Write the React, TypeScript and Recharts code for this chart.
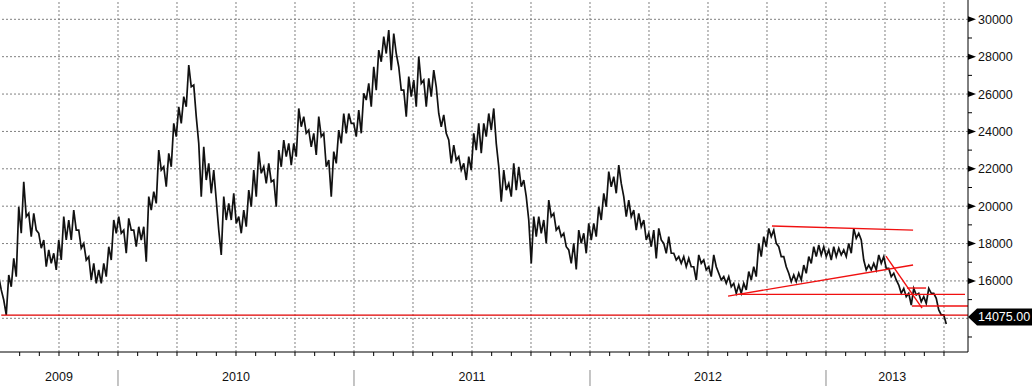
import React from 'react';
import { LineChart, Line, XAxis, YAxis, ReferenceLine } from 'recharts';

// ---- data ----
const START = 2009.5; // fractional year of the first sample
const STEP = 1 / 47.2; // years between samples (~7.7 days)

// high / low of the price band in each sample period
const highs = [
  16230, 14980, 16320, 17210, 19970, 21310, 19620, 19620, 18550, 18190,
  17660, 17480, 18190, 19440, 19260, 19790, 18720, 18010, 17300, 16940,
  16590, 16940, 17830, 19260, 19440, 18720, 19350, 18720, 18900, 18900,
  20510, 20780, 23000, 22110, 22830, 24430, 25320, 25860, 27550, 26480,
  23360, 23180, 22290, 21930, 18720, 20510, 20150, 20690, 19440, 19790,
  20860, 21930, 22920, 22110, 22290, 21400, 23000, 23540, 23360, 23360,
  25230, 24790, 24070, 23900, 24790, 23900, 22470, 22920, 24070, 24960,
  24960, 24430, 25140, 26040, 26570, 27460, 28350, 29070, 29420, 29240,
  27460, 26210, 26930, 26750, 28000, 26750, 26840, 27280, 24960, 24880,
  23540, 23270, 22650, 22290, 22650, 23900, 24430, 24430, 24960, 25230,
  22110, 21930, 21220, 22290, 22110, 21400, 19260, 19440, 19440, 19260,
  20330, 19620, 18900, 18550, 17660, 18010, 18720, 18550, 19080, 19080,
  19970, 20690, 21850, 21580, 22200, 20510, 20330, 19790, 19620, 19260,
  18550, 18720, 18810, 18010, 18370, 17480, 17300, 17300, 17210, 16760,
  17390, 17120, 16760, 17390, 16410, 16230, 16230, 15870, 15780, 15870,
  16500, 16760, 18010, 18370, 18810, 18720, 17830, 17300, 16410, 16320,
  16410, 16850, 17300, 17830, 17920, 17830, 17660, 17830, 17750, 17660,
  18010, 18800, 18550, 17120, 16850, 16940, 17390, 17300, 16670, 16410,
  15780, 15600, 15340, 15600, 15340, 15160, 15600, 15340, 14450, 14180,
];
const lows = [
  15520, 14180, 15690, 16230, 18550, 19440, 18370, 18720, 17750, 16760,
  16940, 16590, 17120, 18190, 18190, 18720, 17750, 17120, 16050, 15870,
  15870, 16230, 17120, 18550, 18550, 17480, 18720, 17830, 18190, 17030,
  19790, 20150, 21930, 21040, 22110, 23720, 24430, 25320, 26390, 24790,
  20510, 21400, 20690, 20330, 17390, 19260, 19260, 19080, 18550, 18900,
  19970, 20510, 21760, 21220, 21310, 19970, 22110, 22650, 22200, 22650,
  24250, 23900, 23180, 22740, 23720, 22110, 20510, 22290, 23360, 23900,
  24430, 23720, 23900, 25680, 25320, 26210, 27730, 28170, 27280, 28170,
  26210, 24790, 25860, 25320, 26570, 25320, 25860, 26390, 24250, 23900,
  22290, 22470, 21930, 21400, 21930, 23000, 22830, 23720, 24070, 23360,
  20240, 20860, 20510, 20860, 21040, 20510, 16940, 18370, 18550, 18010,
  19440, 18720, 18370, 17830, 16940, 16620, 18010, 17480, 18190, 18370,
  19260, 19970, 21040, 20690, 21220, 19440, 19440, 18720, 18900, 18190,
  17830, 17210, 18190, 17480, 17480, 17120, 16940, 16760, 16760, 16050,
  16940, 16590, 16230, 16760, 16050, 15870, 15690, 15340, 15340, 15520,
  16050, 16230, 17300, 17830, 18370, 18010, 17300, 16760, 15960, 15960,
  16050, 16410, 16940, 17300, 17390, 17300, 17120, 17300, 17390, 17300,
  17480, 18280, 18190, 16590, 16590, 16590, 16940, 16670, 16230, 16050,
  15340, 15160, 14710, 15250, 14890, 14800, 15340, 15070, 14180, 13700,
];

const years = [2009, 2010, 2011, 2012, 2013];
const yMajorTicks = [16000, 18000, 20000, 22000, 24000, 26000, 28000, 30000];
const yMinorTicks = [13000, 15000, 17000, 19000, 21000, 23000, 25000, 27000, 29000];
const gridValues = [14000, 16000, 18000, 20000, 22000, 24000, 26000, 28000, 30000];
const LAST_PRICE = 14075;
const SUPPORT_2009 = 14170;

// trend lines: [startYear, startValue, endYear, endValue]
const trendLines: number[][] = [
  [2012.771, 18940, 2013.369, 18720],
  [2012.585, 15190, 2013.369, 16850],
  [2012.623, 15280, 2013.589, 15280],
  [2013.254, 17330, 2013.407, 14540],
  [2013.343, 15620, 2013.424, 15620],
  [2013.364, 14660, 2013.6017, 14660],
];

// ---- layout ----
const W = 1032;
const H = 386;
const AXIS_W = 64;
const AXIS_H = 34;
const PLOT_RIGHT = W - AXIS_W;
const PLOT_BOTTOM = H - AXIS_H;
const X_MIN = 2009.5;
const X_MAX = 2013.6017;
const Y_MIN = 12197;
const Y_MAX = 31033;
const FONT = "'Liberation Sans', Arial, sans-serif";

const data: { t: number; v: number }[] = [];
highs.forEach((h, i) => {
  const t = START + i * STEP;
  data.push({ t: t - STEP * 0.25, v: h });
  data.push({ t: t + STEP * 0.25, v: lows[i] });
});

const monthTicks: number[] = [];
years.forEach((y) => {
  for (let m = 0; m < 12; m++) {
    const t = y + m / 12;
    if (t > X_MIN + 0.01 && t < X_MAX - 0.06) monthTicks.push(t);
  }
});
const labelCenters = years.map((y) => {
  const a = Math.max(y, X_MIN);
  const b = Math.min(y + 1, X_MAX - 0.04);
  return (a + b) / 2;
});
const xTicks = Array.from(
  new Set([...monthTicks, ...labelCenters].map((v) => Math.round(v * 1e6) / 1e6))
).sort((a, b) => a - b);

const quarterLines: number[] = [];
years.forEach((y) => {
  for (let q = 0; q < 4; q++) {
    const t = y + q / 4;
    if (t > X_MIN + 0.01 && t < X_MAX - 0.05) quarterLines.push(t);
  }
});

const yTicks = [...yMinorTicks, ...yMajorTicks, LAST_PRICE].sort((a, b) => a - b);

const XTick = (props: any) => {
  const { x, payload } = props;
  const v: number = payload.value;
  const isMonth = Math.abs(v * 12 - Math.round(v * 12)) < 1e-4;
  const isYear = Math.abs(v - Math.round(v)) < 1e-4;
  const li = labelCenters.findIndex((c) => Math.abs(c - v) < 1e-4);
  return (
    <g>
      {isMonth && (
        <line x1={x} x2={x} y1={PLOT_BOTTOM} y2={PLOT_BOTTOM + 4} stroke="#000" strokeWidth={1} />
      )}
      {isYear && (
        <line x1={x} x2={x} y1={PLOT_BOTTOM + 18} y2={H} stroke="#8a8a8a" strokeWidth={1} />
      )}
      {li >= 0 && (
        <text x={x} y={PLOT_BOTTOM + 26} textAnchor="middle" dominantBaseline="middle" fontFamily={FONT} fontSize={12.5} fill="#111">
          {years[li]}
        </text>
      )}
    </g>
  );
};

const YTick = (props: any) => {
  const { y, payload } = props;
  const v: number = payload.value;
  const ax = PLOT_RIGHT;
  if (v === LAST_PRICE) {
    return (
      <g>
        <polygon
          points={`${ax},${y} ${ax + 9},${y - 8.5} ${W},${y - 8.5} ${W},${y + 8.5} ${ax + 9},${y + 8.5}`}
          fill="#000"
        />
        <text x={ax + 10} y={y} dy="0.36em" fontFamily={FONT} fontSize={12.5} fill="#fff">
          {LAST_PRICE.toFixed(2)}
        </text>
      </g>
    );
  }
  if (yMinorTicks.includes(v)) {
    return <line x1={ax} x2={ax + 4} y1={y} y2={y} stroke="#000" strokeWidth={1} />;
  }
  return (
    <g>
      <polygon points={`${ax},${y - 3} ${ax + 8},${y} ${ax},${y + 3}`} fill="#000" />
      <text x={ax + 10} y={y} dy="0.36em" fontFamily={FONT} fontSize={12.5} fill="#111">
        {v}
      </text>
    </g>
  );
};

export default function App() {
  return (
    <div style={{ position: 'absolute', left: 0, top: 0, width: W, height: H, background: '#fff' }}>
      <LineChart width={W} height={H} data={data} margin={{ top: 0, right: 0, bottom: 0, left: 0 }}>
        <XAxis
          dataKey="t"
          type="number"
          domain={[X_MIN, X_MAX]}
          allowDataOverflow
          ticks={xTicks}
          interval={0}
          height={AXIS_H}
          axisLine={{ stroke: '#000', strokeWidth: 1 }}
          tickLine={false}
          tick={(p: any) => <XTick {...p} />}
        />
        <YAxis
          orientation="right"
          type="number"
          domain={[Y_MIN, Y_MAX]}
          allowDataOverflow
          ticks={yTicks}
          interval={0}
          width={AXIS_W}
          axisLine={{ stroke: '#000', strokeWidth: 1 }}
          tickLine={false}
          tick={(p: any) => <YTick {...p} />}
        />
        {gridValues.map((g) => (
          <ReferenceLine key={'h' + g} y={g} stroke="#808080" strokeDasharray="2 2" strokeWidth={1} />
        ))}
        {quarterLines.map((q) => (
          <ReferenceLine key={'v' + q} x={q} stroke="#808080" strokeDasharray="2 2" strokeWidth={1} />
        ))}
        <Line
          dataKey="v"
          type="linear"
          stroke="#111"
          strokeWidth={1.7}
          dot={false}
          isAnimationActive={false}
        />
        <ReferenceLine
          segment={[{ x: START + STEP * 0.25, y: SUPPORT_2009 }, { x: X_MAX, y: SUPPORT_2009 }]}
          stroke="#e00000"
          strokeWidth={1.3}
          ifOverflow="visible"
        />
        {trendLines.map((l, i) => (
          <ReferenceLine
            key={'tl' + i}
            segment={[{ x: l[0], y: l[1] }, { x: l[2], y: l[3] }]}
            stroke="#f01010"
            strokeWidth={1.4}
            ifOverflow="visible"
          />
        ))}
      </LineChart>
    </div>
  );
}
